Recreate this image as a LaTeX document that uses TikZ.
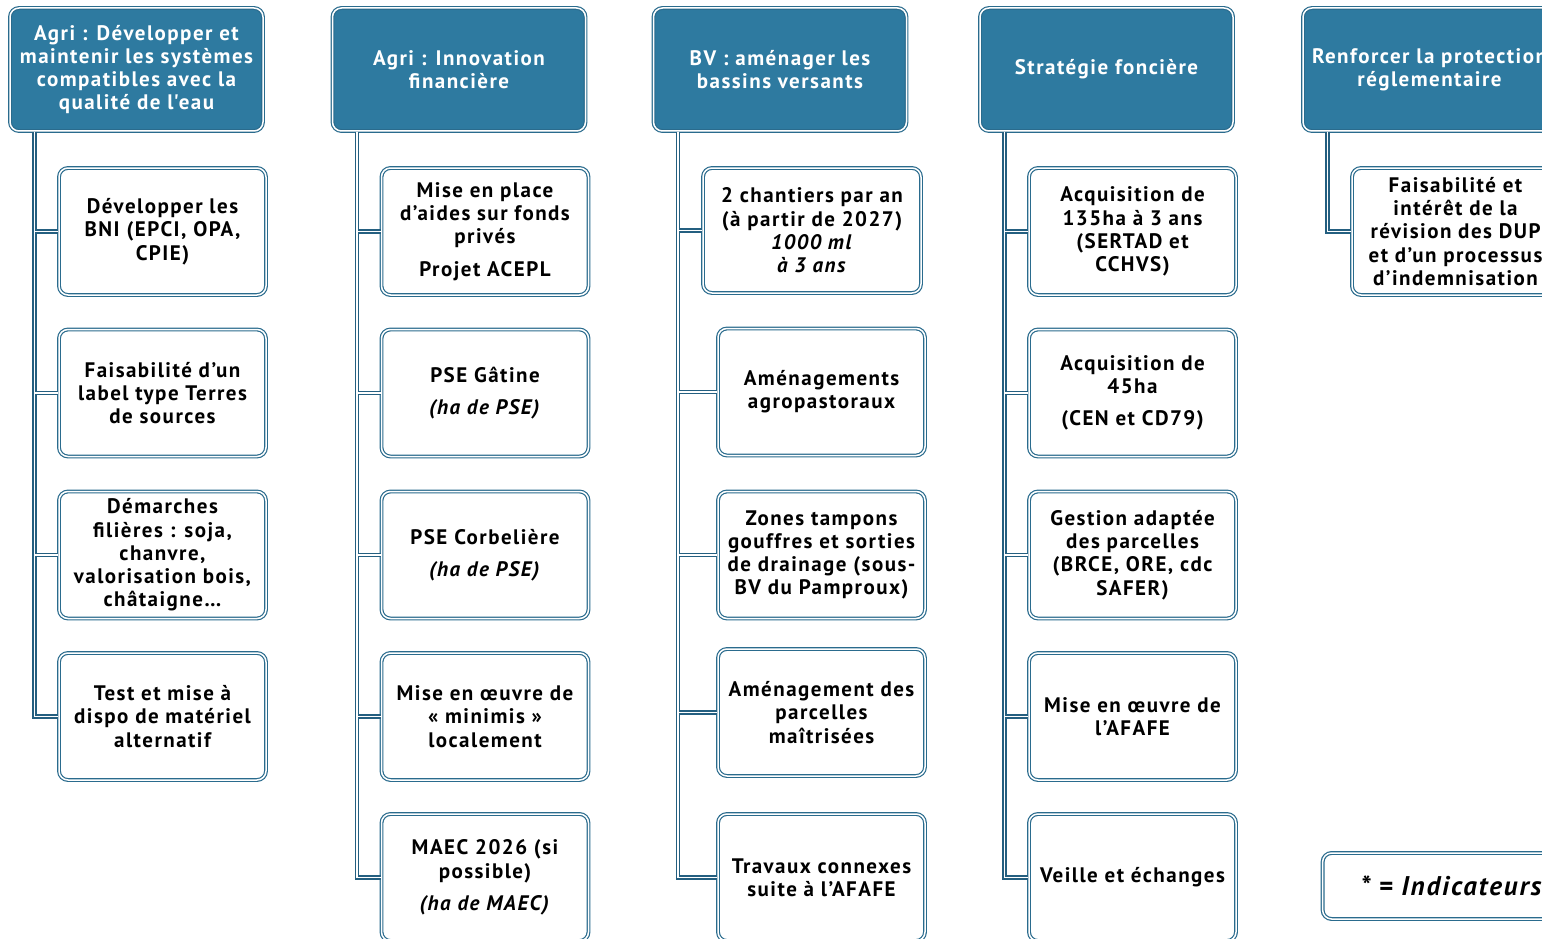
\documentclass[tikz,border=0pt]{standalone}
\usepackage{fontspec}
\setmainfont{PT Sans}[LetterSpace=7]
\definecolor{bleu}{HTML}{2E7AA0}
\definecolor{bleuf}{HTML}{2A6B8D}
\definecolor{bleul}{HTML}{245F80}

\begin{document}
\begin{tikzpicture}[x=1pt,y=-1pt,
  box/.style={draw=bleuf, double=white, double distance=1.5pt, line width=1.2pt,
    rounded corners=9pt, align=center, inner sep=2pt,
    font=\bfseries\fontsize{21}{23.3}\selectfont},
  head/.style={box, fill=bleu, text=white, minimum width=253pt, minimum height=123pt},
  item/.style={box, fill=white, text=black, minimum width=207pt, minimum height=127pt},
  note/.style={box, fill=white, minimum height=66pt, inner xsep=38pt,
    font=\bfseries\itshape\fontsize{27}{30}\selectfont},
  link/.style={draw=bleul, double=white, double distance=1.4pt, line width=1.5pt}]
\useasboundingbox (0,0) rectangle (1542,939);
\clip (0,0) rectangle (1542,939);
%headers
\node[head] (h1) at (136.5,69.5) {Agri : Développer et\\maintenir les systèmes\\compatibles avec la\\qualité de l\textquotesingle eau};
\node[head] (h2) at (459,69.5) {Agri : Innovation\\financière};
\node[head] (h3) at (780,69.5) {BV : aménager les\\bassins versants};
\node[head] (h4) at (1106.5,69.5) {Stratégie foncière};
\node[head] (h5) at (1429.5,69.5) {Renforcer la protection\\réglementaire};
%col 1
\node[item] (a1) at (162.5,231.5) {Développer les\\BNI (EPCI, OPA,\\CPIE)};
\node[item] (a2) at (162.5,393) {Faisabilité d’un\\label type Terres\\de sources};
\node[item] (a3) at (162.5,555) {Démarches\\filières : soja,\\chanvre,\\valorisation bois,\\châtaigne…};
\node[item] (a4) at (162.5,716.5) {Test et mise à\\dispo de matériel\\alternatif};
%col 2
\node[item] (b1) at (485,231.5) {Mise en place\\d’aides sur fonds\\privés\\[9pt]Projet ACEPL};
\node[item] (b2) at (485,393) {PSE Gâtine\\[9pt]\textit{(ha de PSE)}};
\node[item] (b3) at (485,555) {PSE Corbelière\\[9pt]\textit{(ha de PSE)}};
\node[item] (b4) at (485,716.5) {Mise en œuvre de\\« minimis »\\localement};
\node[item] (b5) at (485,877.5) {MAEC 2026 (si\\possible)\\[9pt]\textit{(ha de MAEC)}};
%col 3
\node[item, minimum width=218pt, minimum height=125pt] (c1) at (812,230.5) {2 chantiers par an\\(à partir de 2027)\\\textit{1000 ml}\\\textit{à 3 ans}};
\node[item] (c2) at (821.5,392) {Aménagements\\agropastoraux};
\node[item] (c3) at (821.5,555) {Zones tampons\\gouffres et sorties\\de drainage (sous-\\BV du Pamproux)};
\node[item] (c4) at (821.5,712.5) {Aménagement des\\parcelles\\maîtrisées};
\node[item] (c5) at (821.5,877.5) {Travaux connexes\\suite à l’AFAFE};
%col 4
\node[item] (d1) at (1132.5,231.5) {Acquisition de\\135ha à 3 ans\\(SERTAD et\\CCHVS)};
\node[item] (d2) at (1132.5,393) {Acquisition de\\45ha\\[9pt](CEN et CD79)};
\node[item] (d3) at (1132.5,555) {Gestion adaptée\\des parcelles\\(BRCE, ORE, cdc\\SAFER)};
\node[item] (d4) at (1132.5,716.5) {Mise en œuvre de\\l’AFAFE};
\node[item] (d5) at (1132.5,877.5) {Veille et échanges};
%col 5
\node[item] (e1) at (1455.5,231.5) {Faisabilité et\\intérêt de la\\révision des DUP\\et d’un processus\\d’indemnisation};
\node[note, anchor=west] (ind) at (1322,886) {* = Indicateurs};
%links
\foreach \h/\c/\n in {h1/a/4, h2/b/5, h3/c/5, h4/d/5, h5/e/1}{
  \coordinate (t\h) at ([xshift=25pt]\h.south west);
  \draw[link] (t\h) |- (\c\n.west) \foreach \i in {1,...,\n}{(t\h |- \c\i.west) -- (\c\i.west)};
}
\end{tikzpicture}
\end{document}
